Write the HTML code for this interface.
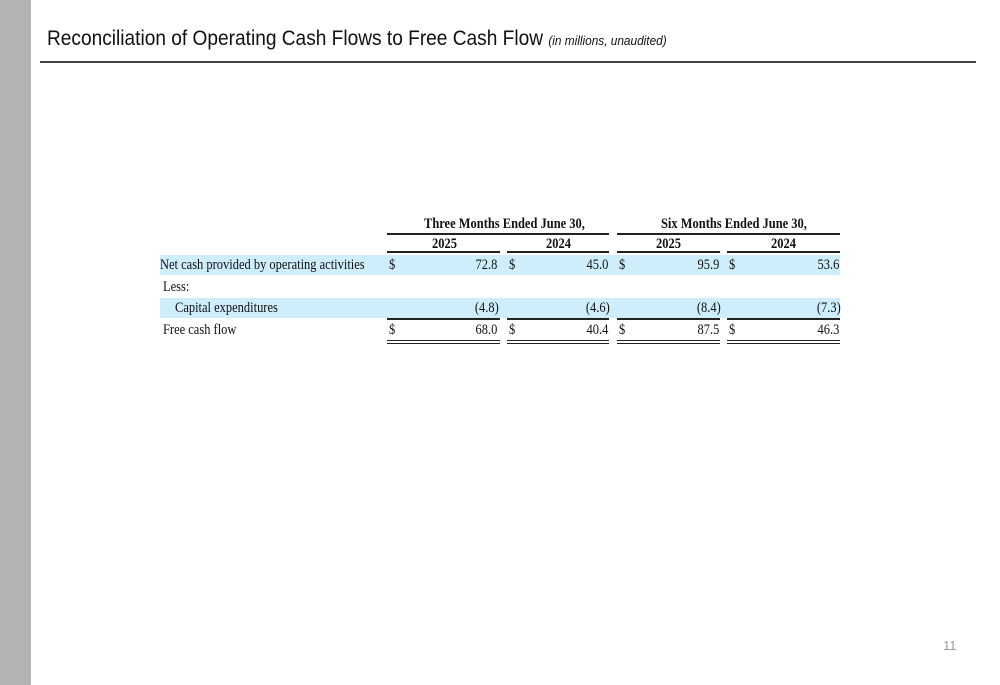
<!DOCTYPE html>
<html><head><meta charset="utf-8"><style>
body{margin:0;width:1000px;height:685px;position:relative;background:#fff;overflow:hidden;font-family:"Liberation Serif",serif;}
.a{position:absolute;white-space:nowrap}
.t{font-size:14.5px;color:#111;transform:scaleX(0.86);transform-origin:left center;line-height:16px}
.r{transform-origin:right center}
.b{font-weight:bold}
.hl{position:absolute;left:160px;width:680px;background:#cfeefc}
.ln{position:absolute;background:#222;height:1.5px}
</style></head><body>
<div class="a" style="left:0;top:0;width:31px;height:685px;background:#b3b3b3"></div>
<div class="a" style="left:47px;top:27px;font-family:'Liberation Sans',sans-serif;font-size:21px;color:#111;transform:scaleX(0.91);transform-origin:left">Reconciliation of Operating Cash Flows to Free Cash Flow <span style="font-size:13px;font-style:italic">(in millions, unaudited)</span></div>
<div class="a" style="left:40px;top:61px;width:936px;height:1.5px;background:#444"></div>

<div class="hl" style="top:255px;height:20px"></div>
<div class="hl" style="top:298px;height:20px"></div>

<div class="a t b" style="left:424px;top:216px">Three Months Ended June 30,</div>
<div class="a t b" style="left:661px;top:216px">Six Months Ended June 30,</div>
<div class="ln" style="left:387px;top:233px;width:222px"></div>
<div class="ln" style="left:617px;top:233px;width:223px"></div>
<div class="a t b" style="left:432px;top:236px">2025</div>
<div class="a t b" style="left:546px;top:236px">2024</div>
<div class="a t b" style="left:656px;top:236px">2025</div>
<div class="a t b" style="left:771px;top:236px">2024</div>
<div class="ln" style="left:387px;top:251px;width:113px"></div>
<div class="ln" style="left:507px;top:251px;width:102px"></div>
<div class="ln" style="left:617px;top:251px;width:103px"></div>
<div class="ln" style="left:727px;top:251px;width:113px"></div>

<div class="a t" style="left:160px;top:257px">Net cash provided by operating activities</div>
<div class="a t" style="left:163px;top:279px">Less:</div>
<div class="a t" style="left:175px;top:300px">Capital expenditures</div>
<div class="a t" style="left:163px;top:322px">Free cash flow</div>

<div id="cells"></div>
<div class="ln" style="left:387px;top:318px;width:113px"></div>
<div class="ln" style="left:507px;top:318px;width:102px"></div>
<div class="ln" style="left:617px;top:318px;width:103px"></div>
<div class="ln" style="left:727px;top:318px;width:113px"></div>
<div class="ln" style="left:387px;top:340px;width:113px;height:1px"></div>
<div class="ln" style="left:507px;top:340px;width:102px;height:1px"></div>
<div class="ln" style="left:617px;top:340px;width:103px;height:1px"></div>
<div class="ln" style="left:727px;top:340px;width:113px;height:1px"></div>
<div class="ln" style="left:387px;top:343px;width:113px;height:1px"></div>
<div class="ln" style="left:507px;top:343px;width:102px;height:1px"></div>
<div class="ln" style="left:617px;top:343px;width:103px;height:1px"></div>
<div class="ln" style="left:727px;top:343px;width:113px;height:1px"></div>

<div class="a" style="left:943px;top:638px;font-family:'Liberation Sans',sans-serif;font-size:13px;color:#999">11</div>
<script>
const ocf=["72.8","45.0","95.9","53.6"];
const capex=["(4.8)","(4.6)","(8.4)","(7.3)"];
const fcf=["68.0","40.4","87.5","46.3"];
const rights=[498,609,720,840];
const dollars=[389,509,619,729];
const c=document.getElementById('cells');
function put(vals,top,dollar,name){
 vals.forEach((v,i)=>{
  const d=document.createElement('div');
  d.className='a t r';d.textContent=v;
  d.style.right=(1000-rights[i]+(v[0]=='('?-1:1))+'px';d.style.top=top+'px';
  
  
  c.appendChild(d);
  if(dollar){const s=document.createElement('div');
   s.className='a t';s.textContent='$';s.style.left=dollars[i]+'px';s.style.top=top+'px';
   
   
   c.appendChild(s);}
 });
}
put(ocf,257,true,'ocf');
put(capex,300,false,'capex');
put(fcf,322,true,'fcf');
</script>
</body></html>
